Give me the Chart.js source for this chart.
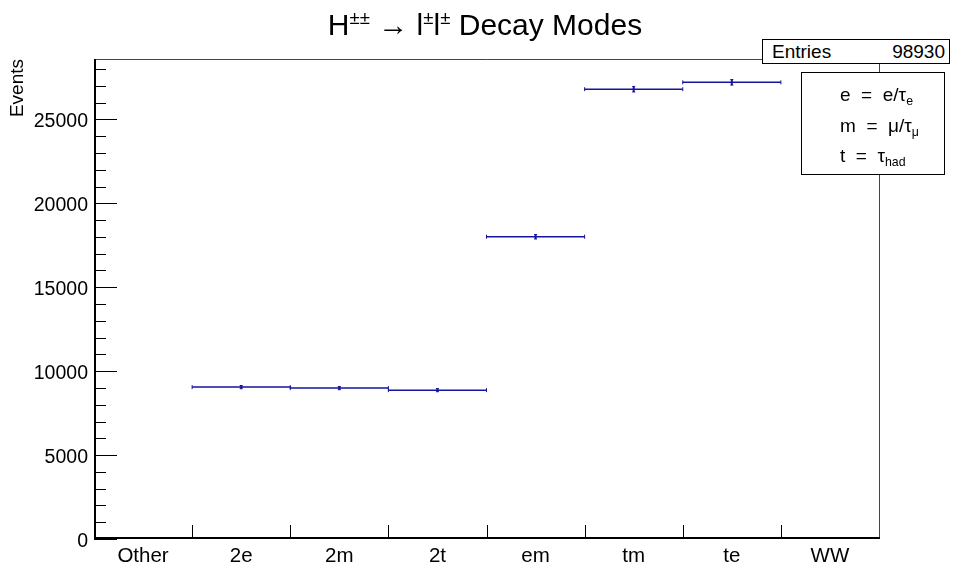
<!DOCTYPE html>
<html>
<head>
<meta charset="utf-8">
<script src="https://cdn.jsdelivr.net/npm/chart.js@4.4.0/dist/chart.umd.min.js"></script>
<style>
    html, body { margin: 0; padding: 0; background: #fff; }
    #wrap { position: relative; width: 959px; height: 569px; font-family: "Liberation Sans", Arial, sans-serif; color: #000; }
    #title { position: absolute; left: 0; width: 970px; top: 7px; text-align: center; font-size: 30px; line-height: 36px; white-space: pre; }
    #title sup { font-size: 0.62em; vertical-align: 0.6em; line-height: 0; }
    .box { position: absolute; background: #fff; border: 1px solid #000; box-sizing: border-box; font-size: 19px; white-space: pre; }
    #stats { left: 762px; top: 39px; width: 188px; height: 25px; }
    #stats span { position: absolute; top: 1px; line-height: 22px; }
    #legend { left: 801px; top: 72px; width: 144px; height: 103px; }
    #legend div { position: absolute; left: 38px; line-height: 22px; }
    #legend sub { font-size: 0.65em; vertical-align: -0.35em; line-height: 0; }
</style>
</head>
<body>
<div id="wrap">
    <canvas id="chart" width="959" height="569"></canvas>
    <div id="title">H<sup>±±</sup> → l<sup>±</sup>l<sup>±</sup> Decay Modes</div>
    <div class="box" id="stats"><span style="left:9px">Entries</span><span style="right:4px">98930</span></div>
    <div class="box" id="legend">
        <div style="top:11px">e  =  e/τ<sub>e</sub></div>
        <div style="top:42px">m  =  μ/τ<sub>μ</sub></div>
        <div style="top:72px">t  =  τ<sub>had</sub></div>
    </div>
</div>
<script>
(function() {
    'use strict';

    const CATEGORIES = ['Other', '2e', '2m', '2t', 'em', 'tm', 'te', 'WW'];
    const EVENTS = [0, 9050, 8990, 8870, 18010, 26800, 27210, 0];
    const ERRORS = [0, 95, 95, 94, 134, 164, 165, 0];
    const Y_TICKS = [0, 5000, 10000, 15000, 20000, 25000];
    const Y_MAX = 28600;

    const FONT = '"Liberation Sans", Arial, sans-serif';
    const HIST_COLOR = '#14149c';

    // horizontal bin lines, broken between bins with a null point
    function buildBinLines() {
        const pts = [];
        EVENTS.forEach((v, i) => {
            if (!v) return;
            pts.push({ x: i, y: v }, { x: i + 1, y: v }, { x: i + 1, y: null });
        });
        return pts;
    }

    function buildErrorBars() {
        const pts = [];
        EVENTS.forEach((v, i) => {
            if (!v) return;
            pts.push({ x: i + 0.5, y: v - ERRORS[i] }, { x: i + 0.5, y: v + ERRORS[i] }, { x: i + 0.5, y: null });
        });
        return pts;
    }

    // ROOT style frame with inward ticks
    const rootFrame = {
        id: 'rootFrame',
        beforeDatasetsDraw(chart) {
            const { ctx, chartArea: a, scales: { x, y } } = chart;
            ctx.save();
            ctx.strokeStyle = '#444';
            ctx.lineWidth = 1;
            ctx.beginPath();
            ctx.moveTo(a.left, a.top + 0.5);
            ctx.lineTo(a.right + 0.5, a.top + 0.5);
            ctx.lineTo(a.right + 0.5, a.bottom);
            ctx.stroke();

            ctx.strokeStyle = '#000';
            ctx.beginPath();
            for (let v = 0; v <= y.max; v += 1000) {
                const py = Math.round(y.getPixelForValue(v)) + 0.5;
                const len = v % 5000 === 0 ? 23 : 12;
                ctx.moveTo(a.left, py);
                ctx.lineTo(a.left + len, py);
            }
            for (let i = 1; i < CATEGORIES.length; i++) {
                const px = Math.round(x.getPixelForValue(i)) + 0.5;
                ctx.moveTo(px, a.bottom);
                ctx.lineTo(px, a.bottom - 14);
            }
            ctx.stroke();

            ctx.lineWidth = 2;
            ctx.beginPath();
            ctx.moveTo(a.left + 1, a.top);
            ctx.lineTo(a.left + 1, a.bottom - 1);
            ctx.lineTo(a.right + 1, a.bottom - 1);
            ctx.stroke();
            ctx.restore();
        },
    };

    function initChart() {
        const canvas = document.getElementById('chart');
        new Chart(canvas, {
            type: 'line',
            data: {
                datasets: [
                    {
                        data: buildBinLines(),
                        borderColor: HIST_COLOR,
                        borderWidth: 1.5,
                        pointRadius: 2,
                        pointStyle: 'line',
                        rotation: 90,
                        pointBorderColor: HIST_COLOR,
                        pointBorderWidth: 1,
                        spanGaps: false,
                    },
                    {
                        data: buildErrorBars(),
                        borderColor: HIST_COLOR,
                        borderWidth: 2,
                        pointRadius: 1.5,
                        pointStyle: 'line',
                        pointBorderColor: HIST_COLOR,
                        pointBorderWidth: 1,
                        spanGaps: false,
                    },
                ],
            },
            options: {
                responsive: false,
                animation: false,
                devicePixelRatio: 1,
                layout: { padding: { top: 59, right: 80, left: 0, bottom: 0 } },
                plugins: { legend: { display: false }, tooltip: { enabled: false }, title: { display: false } },
                scales: {
                    x: {
                        type: 'linear',
                        min: 0,
                        max: CATEGORIES.length,
                        grid: { display: false, drawTicks: false },
                        border: { display: false },
                        afterBuildTicks: s => { s.ticks = CATEGORIES.map((c, i) => ({ value: i + 0.5 })); },
                        afterFit: s => { s.height = 30; },
                        ticks: {
                            autoSkip: false,
                            maxRotation: 0,
                            padding: 5,
                            color: '#000',
                            font: { family: FONT, size: 20.5 },
                            callback: v => CATEGORIES[Math.floor(v)],
                        },
                    },
                    y: {
                        min: 0,
                        max: Y_MAX,
                        grid: { display: false, drawTicks: false },
                        border: { display: false },
                        afterBuildTicks: s => { s.ticks = Y_TICKS.map(v => ({ value: v })); },
                        afterFit: s => { s.width = 94; },
                        ticks: {
                            autoSkip: false,
                            padding: 6,
                            labelOffset: 2.5,
                            color: '#000',
                            font: { family: FONT, size: 19.5 },
                            callback: v => String(v),
                        },
                        title: {
                            display: true,
                            text: 'Events',
                            align: 'end',
                            color: '#000',
                            font: { family: FONT, size: 19 },
                            padding: { top: 6, bottom: 0 },
                        },
                    },
                },
            },
            plugins: [rootFrame],
        });
    }

    if (document.readyState === 'loading') {
        document.addEventListener('DOMContentLoaded', initChart);
    } else {
        initChart();
    }
})();
</script>
</body>
</html>
